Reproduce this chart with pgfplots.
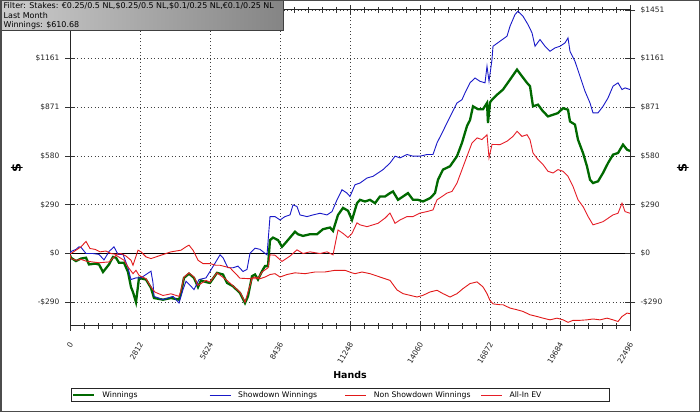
\documentclass[border=0pt]{standalone}
\usepackage{pgfplots}
\pgfplotsset{compat=1.18}
\usepackage{fontspec}
\setmainfont{DejaVu Sans}
\definecolor{wgreen}{RGB}{0,105,0}
\definecolor{sblue}{RGB}{25,25,200}
\definecolor{nred}{RGB}{225,25,25}
\definecolor{ered}{RGB}{230,30,40}
\begin{document}
\begin{tikzpicture}[x=1bp,y=1bp]
\useasboundingbox (0,0) rectangle (700,412);
\fill[white] (0,0) rectangle (700,412);
\begin{axis}[
  at={(70bp,86.3bp)}, anchor=south west, scale only axis,
  width=560bp, height=315.7bp,
  xmin=0, xmax=22496, ymin=-430, ymax=1451,
  scaled ticks=false,
  xtick={0,2812,5624,8436,11248,14060,16872,19684,22496},
  xticklabels={0,2812,5624,8436,11248,14060,16872,19684,22496},
  ytick={-290,0,290,580,871,1161,1451},
  yticklabels={-\$290,\$0,\$290,\$580,\$871,\$1161,\$1451},
  minor x tick num=4, minor y tick num=4,
  tick align=center,
  major tick length=10bp, minor tick length=6bp,
  every tick/.style={black!80, line width=0.8bp},
  axis line style={black!85, line width=1bp},
  grid=major,
  major grid style={black!75, dash pattern=on 0.9bp off 2.6bp, line width=0.8bp},
  ticklabel style={font=\fontsize{7.5}{8.5}\selectfont, text=black!85},
  yticklabel style={xshift=-2bp},
  xticklabel style={xshift=3bp, yshift=-9bp, rotate=60, anchor=east},
  /pgf/number format/assume math mode=true,
  legend columns=4,
  legend style={at={(0.00125,-0.1973)}, anchor=north west, draw=black!85, line width=0.9bp,
    font=\fontsize{7.7}{8.5}\selectfont, inner xsep=1bp, inner ysep=1bp,
    /tikz/every even column/.append style={column sep=0bp}},
  legend image code/.code={\draw[#1] (0bp,0bp) -- (21bp,0bp); \path (26bp,0bp);},
]
\draw[black, line width=0.9bp] (axis cs:0,0) -- (axis cs:22496,0);
\addplot[wgreen, line width=2.3bp] coordinates {
(0,-10)(40,-25)(241,-45)(442,-30)(643,-25)(763,-65)(1004,-60)(1165,-65)(1326,-110)(1567,-65)
(1727,-20)(1848,-25)(1968,-55)(2169,-55)(2330,-110)(2450,-200)(2531,-230)(2651,-290)(2772,-145)
(3053,-155)(3254,-205)(3374,-265)(3736,-275)(4057,-265)(4379,-275)(4459,-235)(4579,-145)
(4780,-120)(4981,-145)(5142,-200)(5262,-160)(5463,-170)(5624,-175)(5905,-115)(6146,-125)
(6307,-175)(6548,-195)(6829,-235)(7030,-295)(7150,-255)(7311,-135)(7432,-125)(7552,-155)
(7713,-105)(7833,-75)(7954,-75)(8034,80)(8155,95)(8356,80)(8516,40)(8637,60)(8838,95)
(9038,130)(9159,115)(9360,105)(9641,115)(9922,115)(10163,145)(10444,155)(10565,135)
(10766,230)(10967,272)(11168,255)(11328,200)(11529,300)(11650,320)(11850,310)(12051,320)
(12252,300)(12453,340)(12654,340)(12855,360)(12975,370)(13176,320)(13377,340)(13578,360)
(13779,320)(13980,320)(14180,310)(14462,330)(14662,360)(14783,440)(14984,500)(15265,520)
(15546,580)(15747,660)(15948,760)(16068,795)(16189,877)(16390,860)(16591,860)(16751,897)
(16791,778)(16872,900)(16952,917)(17153,946)(17394,977)(17675,1036)(17956,1096)(18157,1056)
(18358,1017)(18479,997)(18599,877)(18800,887)(19001,847)(19202,817)(19403,827)(19603,837)
(19804,866)(20005,857)(20085,787)(20286,768)(20407,678)(20608,599)(20768,519)(20889,440)
(21009,420)(21210,430)(21411,480)(21612,539)(21813,589)(22014,599)(22214,649)(22375,619)
(22496,611)};
\addlegendentry{\makebox[104.8bp][l]{Winnings}}
\addplot[sblue, line width=0.9bp] coordinates {
(0,0)(40,12)(241,25)(362,40)(442,37)(643,0)(924,0)(1165,-5)(1366,-38)(1567,12)(1767,40)
(1928,-5)(2129,-5)(2330,-85)(2450,-155)(2651,-145)(2852,-145)(3053,-125)(3254,-105)
(3334,-175)(3374,-255)(3736,-275)(4138,-255)(4379,-295)(4539,-215)(4660,-165)(4861,-195)
(4981,-215)(5182,-155)(5463,-145)(5624,-107)(5905,-38)(6026,-8)(6146,-25)(6347,-85)
(6548,-85)(6749,-75)(6950,-107)(7110,-95)(7231,2)(7432,32)(7632,25)(7914,-8)(8034,220)
(8235,220)(8436,200)(8637,220)(8838,230)(8958,290)(9119,280)(9239,230)(9520,220)(9762,230)
(10043,240)(10324,230)(10525,250)(10726,320)(10926,380)(11127,360)(11248,340)(11449,410)
(11650,420)(11931,450)(12172,460)(12373,480)(12574,500)(12855,539)(13056,580)(13256,570)
(13538,590)(13779,580)(14060,580)(14341,590)(14582,590)(14743,659)(14944,718)(15144,778)
(15345,838)(15546,897)(15747,917)(15868,957)(16068,1017)(16269,1046)(16470,1026)(16671,1017)
(16751,1116)(16832,1026)(16952,1156)(16992,1235)(17274,1265)(17555,1295)(17675,1354)
(17876,1424)(17997,1444)(18197,1414)(18398,1364)(18559,1315)(18680,1235)(18880,1275)
(19081,1235)(19282,1205)(19483,1225)(19684,1235)(19885,1255)(20005,1285)(20085,1205)
(20286,1145)(20487,1056)(20688,967)(20889,897)(21009,838)(21210,838)(21411,877)(21612,927)
(21813,997)(22014,1017)(22174,977)(22295,987)(22496,977)};
\addlegendentry{\makebox[104.8bp][l]{Showdown Winnings}}
\addplot[nred, line width=0.9bp] coordinates {
(0,0)(40,0)(241,20)(442,40)(643,72)(803,30)(1004,25)(1205,10)(1446,15)(1647,0)(1848,-5)
(2049,0)(2250,-15)(2450,-40)(2531,-70)(2732,20)(2852,10)(3053,-20)(3254,-30)(3455,-20)
(3656,-10)(3856,0)(4057,10)(4258,15)(4459,20)(4660,40)(4780,50)(4941,20)(5142,-40)
(5343,-60)(5624,-60)(5865,-70)(6026,-70)(6427,-85)(6829,-147)(7231,-150)(7432,-140)
(7632,-150)(7833,-140)(8034,-125)(8235,-120)(8436,-140)(8717,-125)(9038,-115)(9440,-120)
(9842,-110)(10244,-110)(10645,-100)(11047,-100)(11328,-115)(11449,-120)(11730,-110)
(12051,-120)(12453,-140)(12855,-160)(13136,-217)(13377,-239)(13658,-249)(13939,-259)
(14180,-249)(14462,-229)(14743,-219)(14984,-239)(15265,-259)(15546,-239)(15787,-209)
(16068,-179)(16350,-169)(16591,-199)(16751,-239)(16872,-280)(16992,-300)(17274,-305)
(17394,-305)(17675,-325)(17956,-335)(18197,-345)(18479,-365)(18760,-375)(19001,-385)
(19282,-395)(19563,-385)(19804,-395)(20005,-410)(20206,-398)(20487,-398)(20768,-395)
(21009,-390)(21291,-395)(21572,-385)(21813,-395)(22014,-405)(22174,-375)(22375,-355)
(22496,-358)};
\addlegendentry{\makebox[104.8bp][l]{Non Showdown Winnings}}
\addplot[ered, line width=0.9bp] coordinates {
(0,-10)(40,-30)(241,-40)(442,-35)(643,-45)(1165,-55)(1567,-50)(1848,-10)(2169,-40)
(2330,-80)(2531,-120)(2651,-100)(2772,-130)(3053,-150)(3254,-200)(3415,-230)(3736,-250)
(4057,-240)(4379,-255)(4459,-220)(4579,-140)(4780,-115)(4981,-140)(5142,-190)(5463,-160)
(5624,-170)(5905,-115)(6307,-160)(6829,-230)(7030,-290)(7150,-230)(7311,-150)(7552,-150)
(7713,-110)(7954,-85)(8034,-8)(8235,-10)(8516,-47)(8838,-15)(9119,22)(9360,0)(9641,10)
(10043,0)(10324,10)(10565,-8)(10766,140)(10967,120)(11168,95)(11328,120)(11529,183)
(11650,171)(11931,160)(12172,171)(12373,180)(12654,211)(12855,241)(13056,180)(13256,200)
(13538,220)(13779,220)(14060,241)(14341,250)(14582,260)(14743,320)(14944,340)(15144,360)
(15345,370)(15546,420)(15747,500)(15948,580)(16149,659)(16350,689)(16550,679)(16751,708)
(16832,570)(16952,650)(17274,649)(17555,669)(17796,698)(17956,728)(18157,698)(18358,708)
(18479,678)(18599,599)(18800,560)(19001,530)(19202,490)(19403,480)(19603,500)(19804,490)
(20005,460)(20206,400)(20407,320)(20608,280)(20809,221)(21009,171)(21210,180)(21411,190)
(21612,210)(21813,230)(22014,240)(22174,300)(22295,250)(22496,240)};
\addlegendentry{\makebox[97bp][l]{All-In EV}}
\end{axis}
\begin{axis}[
  at={(70bp,86.3bp)}, anchor=south west, scale only axis,
  width=560bp, height=315.7bp,
  xmin=0, xmax=22496, ymin=-430, ymax=1451,
  scaled ticks=false,
  xtick=\empty, axis x line=none, axis y line*=right,
  ytick={-290,0,290,580,871,1161,1451},
  yticklabels={-\$290,\$0,\$290,\$580,\$871,\$1161,\$1451},
  minor y tick num=4,
  tick align=center,
  major tick length=10bp, minor tick length=6bp,
  every tick/.style={black!80, line width=0.8bp},
  axis line style={black!85, line width=1bp},
  ticklabel style={font=\fontsize{7.5}{8.5}\selectfont, text=black!85},
  yticklabel style={xshift=2bp},
]
\end{axis}
\node[rotate=90, font=\bfseries\fontsize{13}{13}\selectfont] at (17,244) {\$};
\node[rotate=90, font=\bfseries\fontsize{13}{13}\selectfont] at (683,244) {\$};
\node[font=\bfseries\fontsize{9.5}{10}\selectfont] at (350,37) {Hands};
\draw[black!75, line width=1bp, left color=black!20, right color=black!48] (0.5,381.5) rectangle (283,411.5);
\begin{scope}[font=\fontsize{8}{9}\selectfont]
\node[anchor=base west, inner sep=0pt] at (3.5,403.2) {Filter: Stakes: €0.25/0.5 NL,\$0.25/0.5 NL,\$0.1/0.25 NL,€0.1/0.25 NL};
\node[anchor=base west, inner sep=0pt] at (3.5,393.8) {Last Month};
\node[anchor=base west, inner sep=0pt] at (3.5,384.4) {Winnings: \$610.68};
\end{scope}
\draw[black!70, line width=1.5bp] (0.75,0.75) rectangle (699.25,411.25);
\end{tikzpicture}
\end{document}
